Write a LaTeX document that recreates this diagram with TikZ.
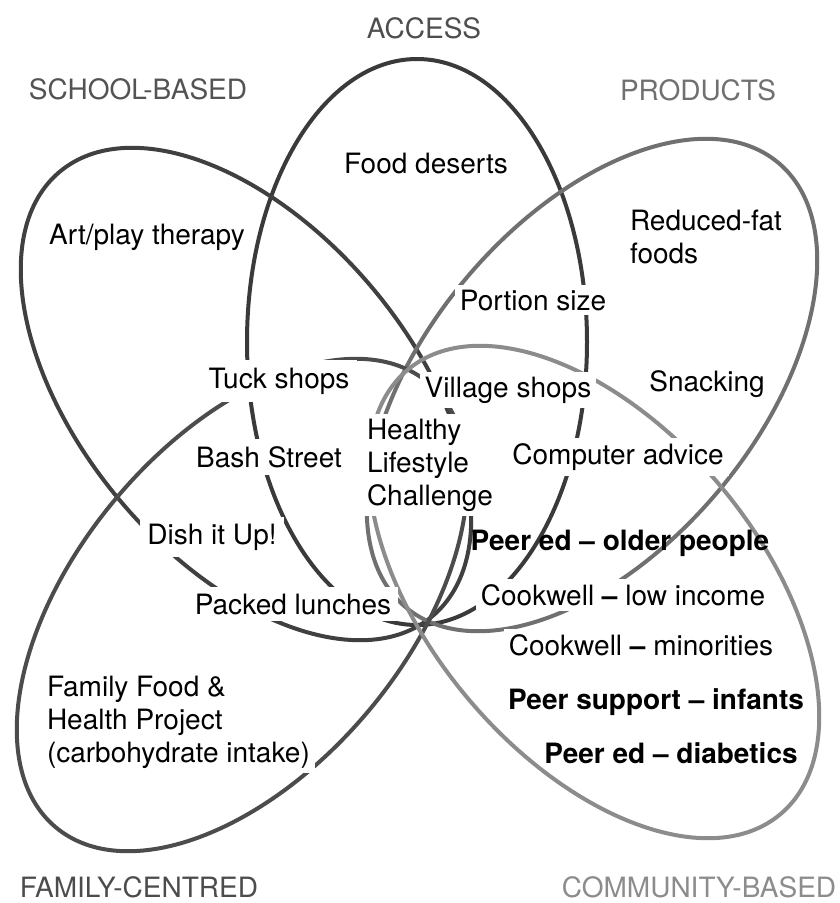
\documentclass[tikz,border=0pt]{standalone}
\usepackage{fontspec}
\setmainfont{TeX Gyre Heros}
\usepackage{tikz}
\definecolor{accessgrey}{RGB}{58,58,58}
\definecolor{schoolgrey}{RGB}{64,64,64}
\definecolor{familygrey}{RGB}{76,76,76}
\definecolor{productgrey}{RGB}{112,112,112}
\definecolor{communitygrey}{RGB}{140,140,140}

\begin{document}
\begin{tikzpicture}[x=1pt, y=-1pt, line width=4pt,
            every node/.style={font=\fontsize{28}{33}\selectfont, inner sep=5pt},
            lbl/.style={fill=white},
            setname/.style={inner sep=0pt},
            strong/.style={font=\fontsize{28}{33}\selectfont\bfseries}]
  \useasboundingbox (0,0) rectangle (839,903);
  % the five sets
  \draw[accessgrey] (417,342) ellipse [x radius=170, y radius=283];
  \draw[schoolgrey, rotate around={-50:(246,394)}] (246,394) ellipse [x radius=290, y radius=165];
  \draw[productgrey, rotate around={50:(592,385)}] (592,385) ellipse [x radius=290, y radius=165];
  \draw[familygrey, rotate around={50:(242,605)}] (242,605) ellipse [x radius=290, y radius=165];
  \draw[communitygrey, rotate around={-50:(594,592)}] (594,592) ellipse [x radius=290, y radius=165];
  % set names
  \node[setname, text=accessgrey!90] (access) at (424,28) {ACCESS};
  \node[setname, text=schoolgrey!90] (school) at (138,89) {SCHOOL-BASED};
  \node[setname, text=productgrey] (products) at (698,90) {PRODUCTS};
  \node[setname, text=familygrey] (family) at (139,887) {FAMILY-CENTRED};
  \node[setname, text=communitygrey] (community) at (699,887) {COMMUNITY-BASED};
  % projects
  \node[lbl] (deserts) at (426,163) {Food deserts};
  \node[lbl] (art) at (147,237) {Art/play therapy};
  \node[lbl, anchor=west, align=left] (reduced) at (623,237) {Reduced-fat\\foods};
  \node[lbl] (portion) at (533,300) {Portion size};
  \node[lbl, inner sep=8pt] (tuck) at (279,381) {Tuck shops};
  \node[lbl] (village) at (508,390) {Village shops};
  \node[lbl] (snacking) at (707,384) {Snacking};
  \node[lbl, anchor=west, align=left] (hlc) at (360,465) {Healthy\\Lifestyle\\Challenge};
  \node[lbl, inner sep=7pt] (bash) at (269,457) {Bash Street};
  \node[lbl] (computer) at (618,457) {Computer advice};
  \node[lbl, inner sep=7pt] (dish) at (212,537) {Dish it Up!};
  \node[strong] (older) at (620,543) {Peer ed -- older people};
  \node[lbl, inner sep=7pt] (packed) at (293,604) {Packed lunches};
  \node[lbl] (lowincome) at (623,595) {Cookwell \textbf{--} low income};
  \node[lbl] (minorities) at (641,645) {Cookwell \textbf{--} minorities};
  \node[lbl, anchor=west, align=left] (ffhp) at (40,722) {Family Food \&\\Health Project\\(carbohydrate intake)};
  \node[strong] (infants) at (656,702) {Peer support -- infants};
  \node[strong] (diabetics) at (671,753) {Peer ed -- diabetics};
\end{tikzpicture}
\end{document}
